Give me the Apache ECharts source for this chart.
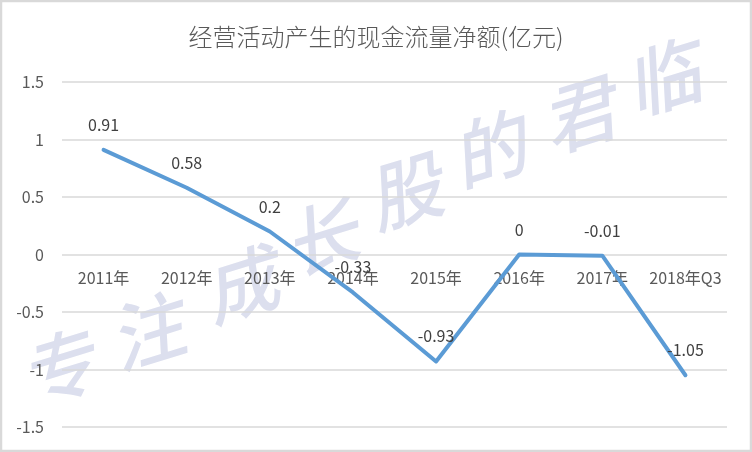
<!DOCTYPE html>
<html><head><meta charset="utf-8">
<script src="https://cdn.jsdelivr.net/npm/echarts@6/dist/echarts.min.js"></script>
<style>
html,body{margin:0;padding:0;background:#fff;}
#c{width:752px;height:452px;}
</style></head>
<body><div id="c"></div>
<script>
const categories = ['2011年','2012年','2013年','2014年','2015年','2016年','2017年','2018年Q3'];
const values = [0.91, 0.58, 0.2, -0.33, -0.93, 0, -0.01, -1.05];
const yTicks = [-1.5, -1, -0.5, 0, 0.5, 1, 1.5];
const titleText = '经营活动产生的现金流量净额(亿元)';
const watermarkChars = ['专','注','成','长','股','的','君','临'];
const watermarkPos = [[57,368],[146,332],[240,285],[320,238],[404,192],[488,150],[578,115],[662,78]];

const chart = echarts.init(document.getElementById('c'), null, {renderer:'canvas'});
const font = '"Noto Sans CJK SC", "Liberation Sans", sans-serif';
const graphics = [{
  type:'rect', shape:{x:1,y:1,width:750,height:450}, z:100, silent:true,
  style:{fill:'none',stroke:'#d9d9d9',lineWidth:2.5}
}];
watermarkChars.forEach((ch,i)=>{
  graphics.push({type:'text', x:watermarkPos[i][0], y:watermarkPos[i][1], rotation:0.3, z:-1, silent:true,
    style:{text:ch, font:'italic 500 74px "Noto Sans CJK SC"', fill:'#dcdfee', align:'center', verticalAlign:'middle'}});
});
const gridTop = 82, gridBottom = 25, plotH = 452 - gridTop - gridBottom;
const yMin = yTicks[0], yMax = yTicks[yTicks.length-1];
const zeroOffset = -plotH * (0 - yMin) / (yMax - yMin);
chart.setOption({
  animation:false,
  backgroundColor:'#fff',
  title:{text:titleText,left:'center',top:20,textStyle:{fontFamily:font,fontSize:24,fontWeight:300,color:'#595959'}},
  graphic:graphics,
  grid:{left:62,right:25,top:gridTop,bottom:gridBottom,containLabel:false,outerBoundsMode:'none'},
  xAxis:{type:'category',data:categories,boundaryGap:true,position:'bottom',offset:zeroOffset,
    axisLine:{show:false,onZero:false},axisTick:{show:false},
    axisLabel:{margin:15,fontFamily:font,fontSize:16,color:'#595959',interval:0},
    splitLine:{show:false}},
  yAxis:{type:'value',min:yMin,max:yMax,interval:0.5,
    axisLine:{show:false},axisTick:{show:false},
    axisLabel:{margin:18,fontFamily:font,fontSize:16,color:'#595959'},
    splitLine:{lineStyle:{color:'#d9d9d9',width:1.5}}},
  series:[{type:'line',data:values,showSymbol:true,symbol:'circle',symbolSize:0.1,z:3,
    itemStyle:{color:'rgba(0,0,0,0)'},
    lineStyle:{color:'#5b9bd5',width:4,cap:'round',join:'round'},
    label:{show:true,position:'top',distance:17,fontFamily:font,fontSize:16,color:'#404040',
      formatter:p=>String(p.value)}}]
});
</script></body></html>
